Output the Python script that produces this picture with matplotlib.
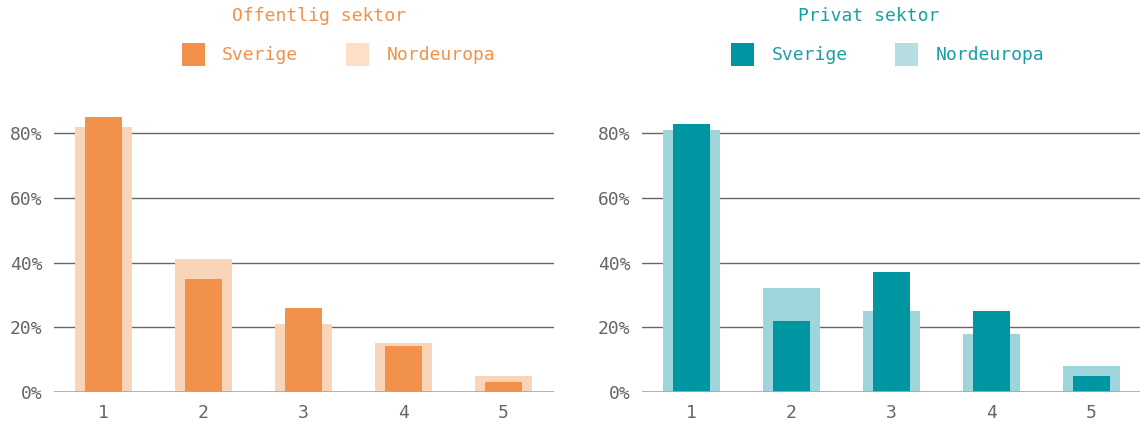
import matplotlib

matplotlib.use("Agg")
import matplotlib.pyplot as plt
from matplotlib.patches import Rectangle

categories = [1, 2, 3, 4, 5]
offentlig_sverige = [85, 35, 26, 14, 3]
offentlig_norden = [82, 41, 21, 15, 5]
privat_sverige = [83, 22, 37, 25, 5]
privat_norden = [81, 32, 25, 18, 8]
y_ticks = [0, 20, 40, 60, 80]

W, H = 1140, 424
FONT = "DejaVu Sans Mono"
plt.rcParams["font.family"] = FONT

ORANGE = "#F2924A"
ORANGE_LIGHT = "#F8D4B8"
ORANGE_LEGEND = "#FDDFC8"
TEAL = "#0096A1"
TEAL_LIGHT = "#9DD5DA"
TEAL_LEGEND = "#B5DDE2"
TEAL_TEXT = "#1A9EA6"

fig = plt.figure(figsize=(W / 100, H / 100), dpi=100)
fig.patch.set_facecolor("white")


def px(x, y):
    return x / W, 1 - y / H


def panel(x0, x1, sverige, norden, dark, light):
    left, bottom = px(x0, 391.7)
    width = (x1 - x0) / W
    height = 290.7 / H
    ax = fig.add_axes([left, bottom, width, height])
    ax.set_xlim(0.5, 5.5)
    ax.set_ylim(0, 90)
    for t in y_ticks[1:]:
        ax.axhline(t, color="#666666", linewidth=1, zorder=0)
    ax.bar(categories, norden, width=0.57, color=light, zorder=2)
    ax.bar(categories, sverige, width=0.37, color=dark, zorder=3)
    ax.axhline(0, color="#AAAAAA", linewidth=2, zorder=4)
    ax.set_xticks(categories)
    ax.set_xticklabels([str(c) for c in categories])
    ax.set_yticks(y_ticks)
    ax.set_yticklabels([f"{t}%" for t in y_ticks])
    ax.tick_params(length=0, labelsize=13, colors="#666666")
    ax.tick_params(axis="y", pad=8)
    ax.tick_params(axis="x", pad=9)
    for s in ax.spines.values():
        s.set_visible(False)
    return ax


def header(title, tx, items, color):
    fig.text(*px(tx, 16), title, color=color, fontsize=13, ha="center", va="center")
    for patch_x, text_x, label, fill in items:
        fig.add_artist(Rectangle(px(patch_x, 66), 23 / W, 23 / H,
                                 transform=fig.transFigure, color=fill, linewidth=0))
        fig.text(*px(text_x, 55), label, color=color, fontsize=13, ha="left", va="center")


panel(53.5, 553.5, offentlig_sverige, offentlig_norden, ORANGE, ORANGE_LIGHT)
panel(641.5, 1141.5, privat_sverige, privat_norden, TEAL, TEAL_LIGHT)

header("Offentlig sektor", 319,
       [(182, 222, "Sverige", ORANGE), (346, 387, "Nordeuropa", ORANGE_LEGEND)], ORANGE)
header("Privat sektor", 868.5,
       [(731, 772, "Sverige", TEAL), (895, 936, "Nordeuropa", TEAL_LEGEND)], TEAL_TEXT)

fig.savefig("out.png", dpi=100)
